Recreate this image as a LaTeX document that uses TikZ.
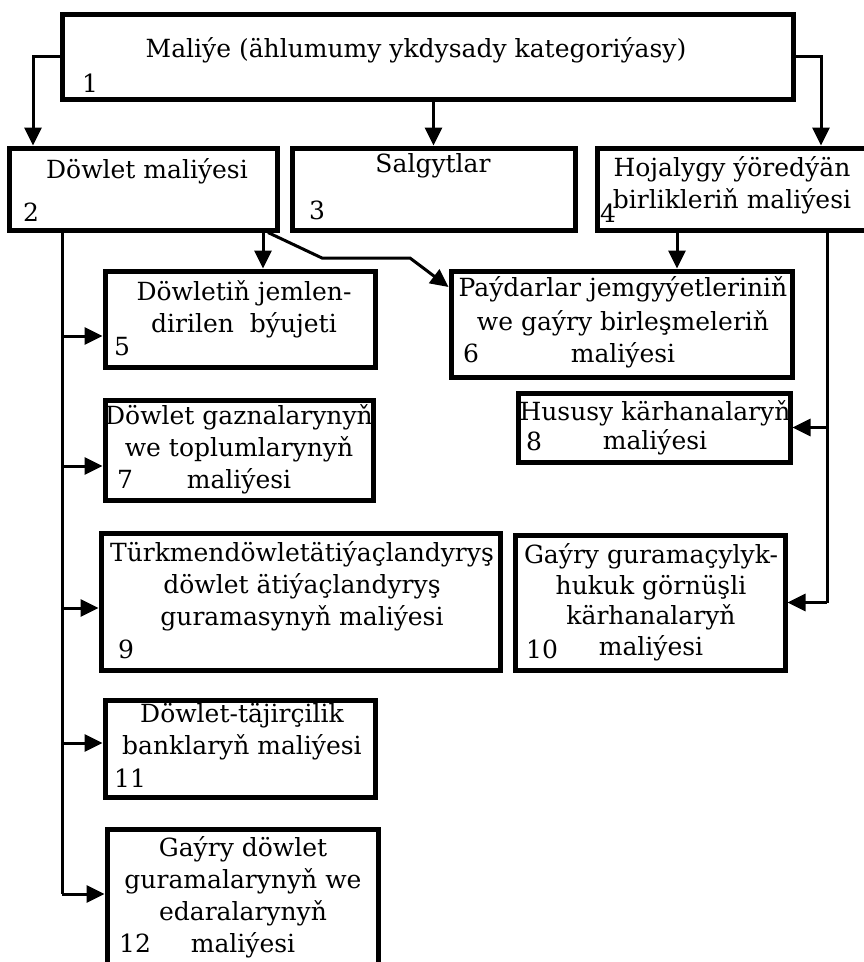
\documentclass[tikz,border=0pt]{standalone}
\usepackage{fontspec}
\setmainfont{DejaVu Serif}
\usepackage{tikz}
\usetikzlibrary{positioning, arrows.meta, fit}

\begin{document}
\begin{tikzpicture}[x=1pt, y=-1pt,
  box/.style={draw, line width=5pt, inner sep=0pt},
  txt/.style={anchor=base, inner sep=0pt, align=center, font=\fontsize{25}{32}\selectfont},
  num/.style={anchor=base west, inner sep=0pt, font=\fontsize{25}{32}\selectfont},
  wire/.style={line width=3pt},
  arr/.style={wire, -{Triangle[length=18pt, width=17pt]}}]
  \useasboundingbox (0,0) rectangle (864,962);
  \clip (0,0) rectangle (864,962);

  % boxes
  \node[box, fit={(62,14) (793,99)}] (b1) {};
  \node[box, fit={(9,148) (277,230)}] (b2) {};
  \node[box, fit={(292,148) (575,230)}] (b3) {};
  \node[box, fit={(597,148) (870,230)}] (b4) {};
  \node[box, fit={(105,271) (375,367)}] (b5) {};
  \node[box, fit={(451,271) (792,377)}] (b6) {};
  \node[box, fit={(105,400) (373,500)}] (b7) {};
  \node[box, fit={(518,393) (790,462)}] (b8) {};
  \node[box, fit={(101,533) (500,670)}] (b9) {};
  \node[box, fit={(515,535) (785,670)}] (b10) {};
  \node[box, fit={(105,700) (375,797)}] (b11) {};
  \node[box, fit={(107,829) (378,968)}] (b12) {};

  % texts (multi-line texts sit on their last baseline)
  \node[txt] at (416,57) {Maliýe (ählumumy ykdysady kategoriýasy)};
  \node[num] at (82,92) {1};
  \node[txt] at (147,178) {Döwlet maliýesi};
  \node[num] at (23,221) {2};
  \node[txt] at (433,172) {Salgytlar};
  \node[num] at (309,219) {3};
  \node[txt] at (732,208) {Hojalygy ýöredýän\\birlikleriň maliýesi};
  \node[num] at (600,222) {4};
  \node[txt] at (244,332) {Döwletiň jemlen-\\dirilen\ \ býujeti};
  \node[num] at (114,355) {5};
  \node[txt] at (623,362) {Paýdarlar jemgyýetleriniň\\[1.5pt]we gaýry birleşmeleriň\\maliýesi};
  \node[num] at (463,362) {6};
  \node[txt] at (239,488) {Döwlet gaznalarynyň\\we toplumlarynyň\\maliýesi};
  \node[num] at (117,488) {7};
  \node[txt] at (655,449) {Hususy kärhanalaryň\\[-3pt]maliýesi};
  \node[num] at (526,450) {8};
  \node[txt] at (302,625) {Türkmendöwletätiýaçlandyryş\\döwlet ätiýaçlandyryş\\guramasynyň maliýesi};
  \node[num] at (118,658) {9};
  \node[txt] at (651,655) {Gaýry guramaçylyk-\\[-1.5pt]hukuk görnüşli\\[-1.5pt]kärhanalaryň\\[-1.5pt]maliýesi};
  \node[num] at (526,658) {10};
  \node[txt] at (242,754) {Döwlet-täjirçilik\\banklaryň maliýesi};
  \node[num] at (114,787) {11};
  \node[txt] at (243,952) {Gaýry döwlet\\guramalarynyň we\\edaralarynyň\\maliýesi};
  \node[num] at (119,952) {12};

  % connectors from 1
  \draw[arr] (b1.west) -| ([xshift=26.5pt]b2.north west);
  \draw[arr] (b3.north |- b1.south) -- (b3.north);
  \draw[arr] (b1.east) -| ([xshift=226.5pt]b4.north west);

  % connectors from 2
  \draw[arr] ([xshift=-16.5pt]b2.south east) -- ([xshift=-16.5pt]b2.south east |- b5.north);
  \draw[arr] ([xshift=-11.5pt]b2.south east) -- (322,258) -- (410,258) -- ([yshift=-18.5pt]b6.north west);
  \coordinate (bus) at ([xshift=55.5pt]b2.south west);
  \draw[wire] (bus) -- ([yshift=4.5pt]b12.west -| bus);
  \foreach \b/\dy in {b5/-17, b7/-16, b9/-6.5, b11/5.5, b12/4.5}
    \draw[arr] ([yshift=\dy pt]\b.west -| bus) -- ([yshift=\dy pt]\b.west);

  % connectors from 4
  \draw[arr] ([xshift=82.5pt]b4.south west) -- ([xshift=82.5pt]b4.south west |- b6.north);
  \coordinate (rbus) at ([xshift=232.5pt]b4.south west);
  \draw[wire] (rbus) -- (b10.east -| rbus);
  \foreach \b in {b8, b10}
    \draw[arr] (\b.east -| rbus) -- (\b.east);
\end{tikzpicture}
\end{document}
